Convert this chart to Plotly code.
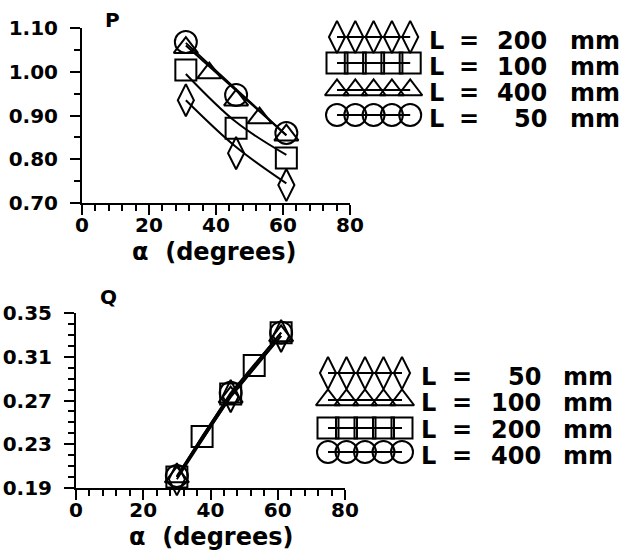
import plotly.graph_objects as go

W, H = 625, 554
FONT = "DejaVu Sans"

# ---------------- data: top panel (P) ----------------
alpha_P_200 = [31, 46, 61]
P_200 = [0.935, 0.814, 0.741]
alpha_P_100 = [31, 46, 61]
P_100 = [1.004, 0.871, 0.803]
alpha_P_400 = [31, 38, 46, 53, 61]
P_400 = [1.055, 0.997, 0.935, 0.894, 0.855]
alpha_P_50 = [31, 46, 61]
P_50 = [1.068, 0.947, 0.860]

# fitted curves drawn through the P data
fit_alpha_P = [31, 46, 61]
P_fit_200 = [0.935, 0.828, 0.745]
P_fit_100 = [0.995, 0.885, 0.810]
P_fit_400 = [1.060, 0.957, 0.855]
P_fit_50 = [1.066, 0.960, 0.855]

# ---------------- data: bottom panel (Q) ----------------
alpha_Q_50 = [30, 46, 61]
Q_50 = [0.198, 0.274, 0.329]
alpha_Q_100 = [30, 46, 61]
Q_100 = [0.200, 0.273, 0.329]
alpha_Q_200 = [30, 37.5, 46, 53, 61]
Q_200 = [0.200, 0.237, 0.276, 0.302, 0.332]
alpha_Q_400 = [30, 46, 61]
Q_400 = [0.201, 0.277, 0.332]

top_legend_values = ["200", "100", "400", "50"]
bottom_legend_values = ["50", "100", "200", "400"]

# ---------------- styles ----------------
SYM = {"diamond": "diamond-tall-open", "square": "square-open",
       "triangle": "triangle-up-open", "circle": "circle-open"}
SIZE = {"diamond": 23, "square": 21, "triangle": 21, "circle": 22}
top_symbols = ["diamond", "square", "triangle", "circle"]
bottom_symbols = ["diamond", "triangle", "square", "circle"]

def tfont(size):
    return dict(family=FONT, size=size, color="black", weight="bold")

fig = go.Figure()

def marker(kind, lw=2):
    return dict(symbol=SYM[kind], size=SIZE[kind], color="black",
                line=dict(color="black", width=lw))

# top panel: fit lines
for fy in [P_fit_200, P_fit_100, P_fit_400, P_fit_50]:
    fig.add_trace(go.Scatter(x=fit_alpha_P, y=fy, mode="lines",
                             line=dict(color="black", width=2, shape="spline"),
                             xaxis="x", yaxis="y", showlegend=False, cliponaxis=False))
# top panel: markers
for ax, ay, kind in [(alpha_P_200, P_200, "diamond"), (alpha_P_100, P_100, "square"),
                     (alpha_P_400, P_400, "triangle"), (alpha_P_50, P_50, "circle")]:
    fig.add_trace(go.Scatter(x=ax, y=ay, mode="markers", marker=marker(kind),
                             xaxis="x", yaxis="y", showlegend=False, cliponaxis=False))

# bottom panel
for ax, ay, kind in [(alpha_Q_50, Q_50, "diamond"), (alpha_Q_100, Q_100, "triangle"),
                     (alpha_Q_200, Q_200, "square"), (alpha_Q_400, Q_400, "circle")]:
    fig.add_trace(go.Scatter(x=ax, y=ay, mode="lines+markers", marker=marker(kind),
                             line=dict(color="black", width=2),
                             xaxis="x2", yaxis="y2", showlegend=False, cliponaxis=False))

# ---------------- hand-drawn style legends (pixel overlay axis) ----------------
def legend_block(x_first, spacing, row_ys, text_ys, kinds, values, xL, xEq, xNumRight, xmm):
    for ry, ty, kind, val in zip(row_ys, text_ys, kinds, values):
        xs = [x_first + k * spacing for k in range(5)]
        fig.add_trace(go.Scatter(x=xs, y=[ry] * 5, mode="lines+markers",
                                 marker=marker(kind), line=dict(color="black", width=2),
                                 xaxis="x3", yaxis="y3", showlegend=False, cliponaxis=False))
        for tx, txt, anchor in [(xL, "L", "center"), (xEq, "=", "center"),
                                (xNumRight, val, "right"), (xmm, "mm", "center")]:
            fig.add_annotation(x=tx, y=ty, xref="x3", yref="y3", text=txt, showarrow=False,
                               xanchor=anchor, yanchor="middle", font=tfont(24))

legend_block(337, 18.3, [37, 63, 90, 115], [41, 67, 93, 119], top_symbols,
             top_legend_values, 436, 469, 549, 595)
legend_block(328, 18.5, [373, 400, 428, 452], [377, 403, 430, 456], bottom_symbols,
             bottom_legend_values, 428, 462, 543, 588)

# panel labels and axis titles
for tx, ty, txt, sz in [(112, 20, "P", 20), (108, 297, "Q", 20),
                        (214, 252, "α  (degrees)", 24), (211, 537, "α  (degrees)", 24)]:
    fig.add_annotation(x=tx, y=ty, xref="x3", yref="y3", text=txt, showarrow=False,
                       xanchor="center", yanchor="middle", font=tfont(sz))

def px_x(p):
    return p / W

def px_y(p):
    return 1 - p / H

axis_common = dict(showline=True, linecolor="black", linewidth=2, ticks="outside",
                   ticklen=10, tickwidth=2, tickcolor="black", showgrid=False,
                   zeroline=False, tickfont=tfont(20), automargin=False)

fig.update_layout(
    template="none",
    width=W, height=H, autosize=False,
    margin=dict(l=0, r=0, t=0, b=0, pad=0),
    paper_bgcolor="white", plot_bgcolor="rgba(0,0,0,0)",
    showlegend=False,
    xaxis=dict(domain=[px_x(82), px_x(350)], range=[0, 80], dtick=20, tick0=0,
               anchor="y", ticklabelstandoff=-7,
               minor=dict(dtick=4, ticks="outside", ticklen=6, tickwidth=2,
                          tickcolor="black"), **axis_common),
    yaxis=dict(domain=[px_y(203), px_y(28)], range=[0.70, 1.10], dtick=0.1, tick0=0.7,
               tickformat=".2f", anchor="x", ticklabelstandoff=8,
               minor=dict(dtick=0.05, ticks="outside", ticklen=6, tickwidth=2,
                          tickcolor="black"), **axis_common),
    xaxis2=dict(domain=[px_x(76), px_x(345)], range=[0, 80], dtick=20, tick0=0,
                anchor="y2", ticklabelstandoff=-7,
                minor=dict(dtick=4, ticks="outside", ticklen=6, tickwidth=2,
                           tickcolor="black"), **axis_common),
    yaxis2=dict(domain=[px_y(488), px_y(313)], range=[0.19, 0.35], dtick=0.04, tick0=0.19,
                tickformat=".2f", anchor="x2", ticklabelstandoff=8,
                minor=dict(dtick=0.01, ticks="outside", ticklen=6, tickwidth=2,
                           tickcolor="black"), **axis_common),
    xaxis3=dict(domain=[0, 1], range=[0, W], visible=False, anchor="y3",
                fixedrange=True, automargin=False),
    yaxis3=dict(domain=[0, 1], range=[H, 0], visible=False, anchor="x3",
                fixedrange=True, automargin=False),
)

fig.write_html(
    "out.html",
    config={"displayModeBar": False, "responsive": False},
    post_script="document.body.style.margin='0';document.body.style.overflow='hidden';",
)
